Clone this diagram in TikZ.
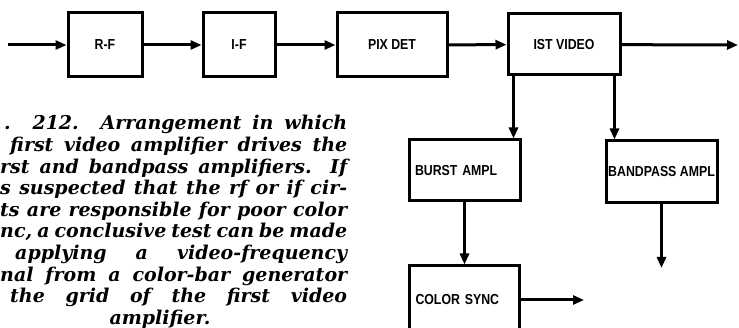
\documentclass[tikz,border=0pt]{standalone}
\usepackage{fontspec}
\setsansfont{Liberation Sans}[FakeStretch=0.85]
\newfontfamily\capfont{DejaVu Serif}
\usetikzlibrary{arrows.meta}

\begin{document}
\begin{tikzpicture}[x=1pt,y=-1pt,>={Triangle[length=11pt,width=9pt]},
  blk/.style={draw,line width=3pt,inner sep=0pt,font=\sffamily\bfseries\fontsize{14.5}{14.5}\selectfont},
  capline/.style={anchor=base west,inner sep=0pt,font=\capfont\bfseries\itshape\fontsize{19}{20}\selectfont},
  link/.style={->,line width=3pt}]
\useasboundingbox[fill=white] (0,0) rectangle (739,328);
\begin{scope}
\clip (0,0) rectangle (739,328);
% top row
\node[blk,minimum width=74pt,minimum height=64pt] (rf) at (105,45) {R-F};
\node[blk,minimum width=72pt,minimum height=64pt] (if) at (239,45) {I-F};
\node[blk,minimum width=110pt,minimum height=64pt] (pix) at (392,45) {PIX DET};
\node[blk,minimum width=112pt,minimum height=61pt] (ist) at (564,44.5) {IST VIDEO};
% branches
\node[blk,minimum width=111pt,minimum height=61pt,text width=99pt,align=left] (burst) at (464.5,170.5) {BURST AMPL};
\node[blk,minimum width=111pt,minimum height=62pt] (band) at (661.5,172) {BANDPASS AMPL};
\node[blk,minimum width=110pt,minimum height=68pt,text width=98pt,align=left] (sync) at (464.5,300) {COLOR SYNC};
\coordinate (in) at (8,45);
\coordinate (out) at (738,45);
\coordinate (bandout) at (661.5,268);
\coordinate (syncout) at (584,300);
\draw[link] (in) -- (rf);
\draw[link] (rf) -- (if);
\draw[link] (if) -- (pix);
\draw[link] (pix) -- (ist);
\draw[link] (ist) -- (out);
\draw[link] ([xshift=7pt]ist.south west) -- ([xshift=7pt]ist.south west |- burst.north);
\draw[link] ([xshift=-7pt]ist.south east) -- ([xshift=-7pt]ist.south east |- band.north);
\draw[link] (burst) -- (sync);
\draw[link] (band) -- (bandout);
\draw[link] (sync) -- (syncout);
\end{scope}
% caption
\node[capline] (cap1) at (4,130) {\makebox[343pt][s]{. 212. Arrangement in which}};
\node[capline] (cap2) at (10,151.6) {\makebox[337pt][s]{first video amplifier drives the}};
\node[capline] (cap3) at (0,173.2) {\makebox[347pt][s]{rst and bandpass amplifiers. If}};
\node[capline] (cap4) at (0,194.8) {\makebox[347pt][s]{s suspected that the rf or if cir-}};
\node[capline] (cap5) at (0,216.4) {\makebox[347pt][s]{ts are responsible for poor color}};
\node[capline] (cap6) at (0,238) {\makebox[347pt][s]{nc, a conclusive test can be made}};
\node[capline] (cap7) at (15,259.6) {\makebox[332pt][s]{applying a video-frequency}};
\node[capline] (cap8) at (0,281.2) {\makebox[347pt][s]{nal from a color-bar generator}};
\node[capline] (cap9) at (10,302.8) {\makebox[337pt][s]{the grid of the first video}};
\node[capline,anchor=base] (cap10) at (160,324.4) {amplifier.};
\end{tikzpicture}
\end{document}
